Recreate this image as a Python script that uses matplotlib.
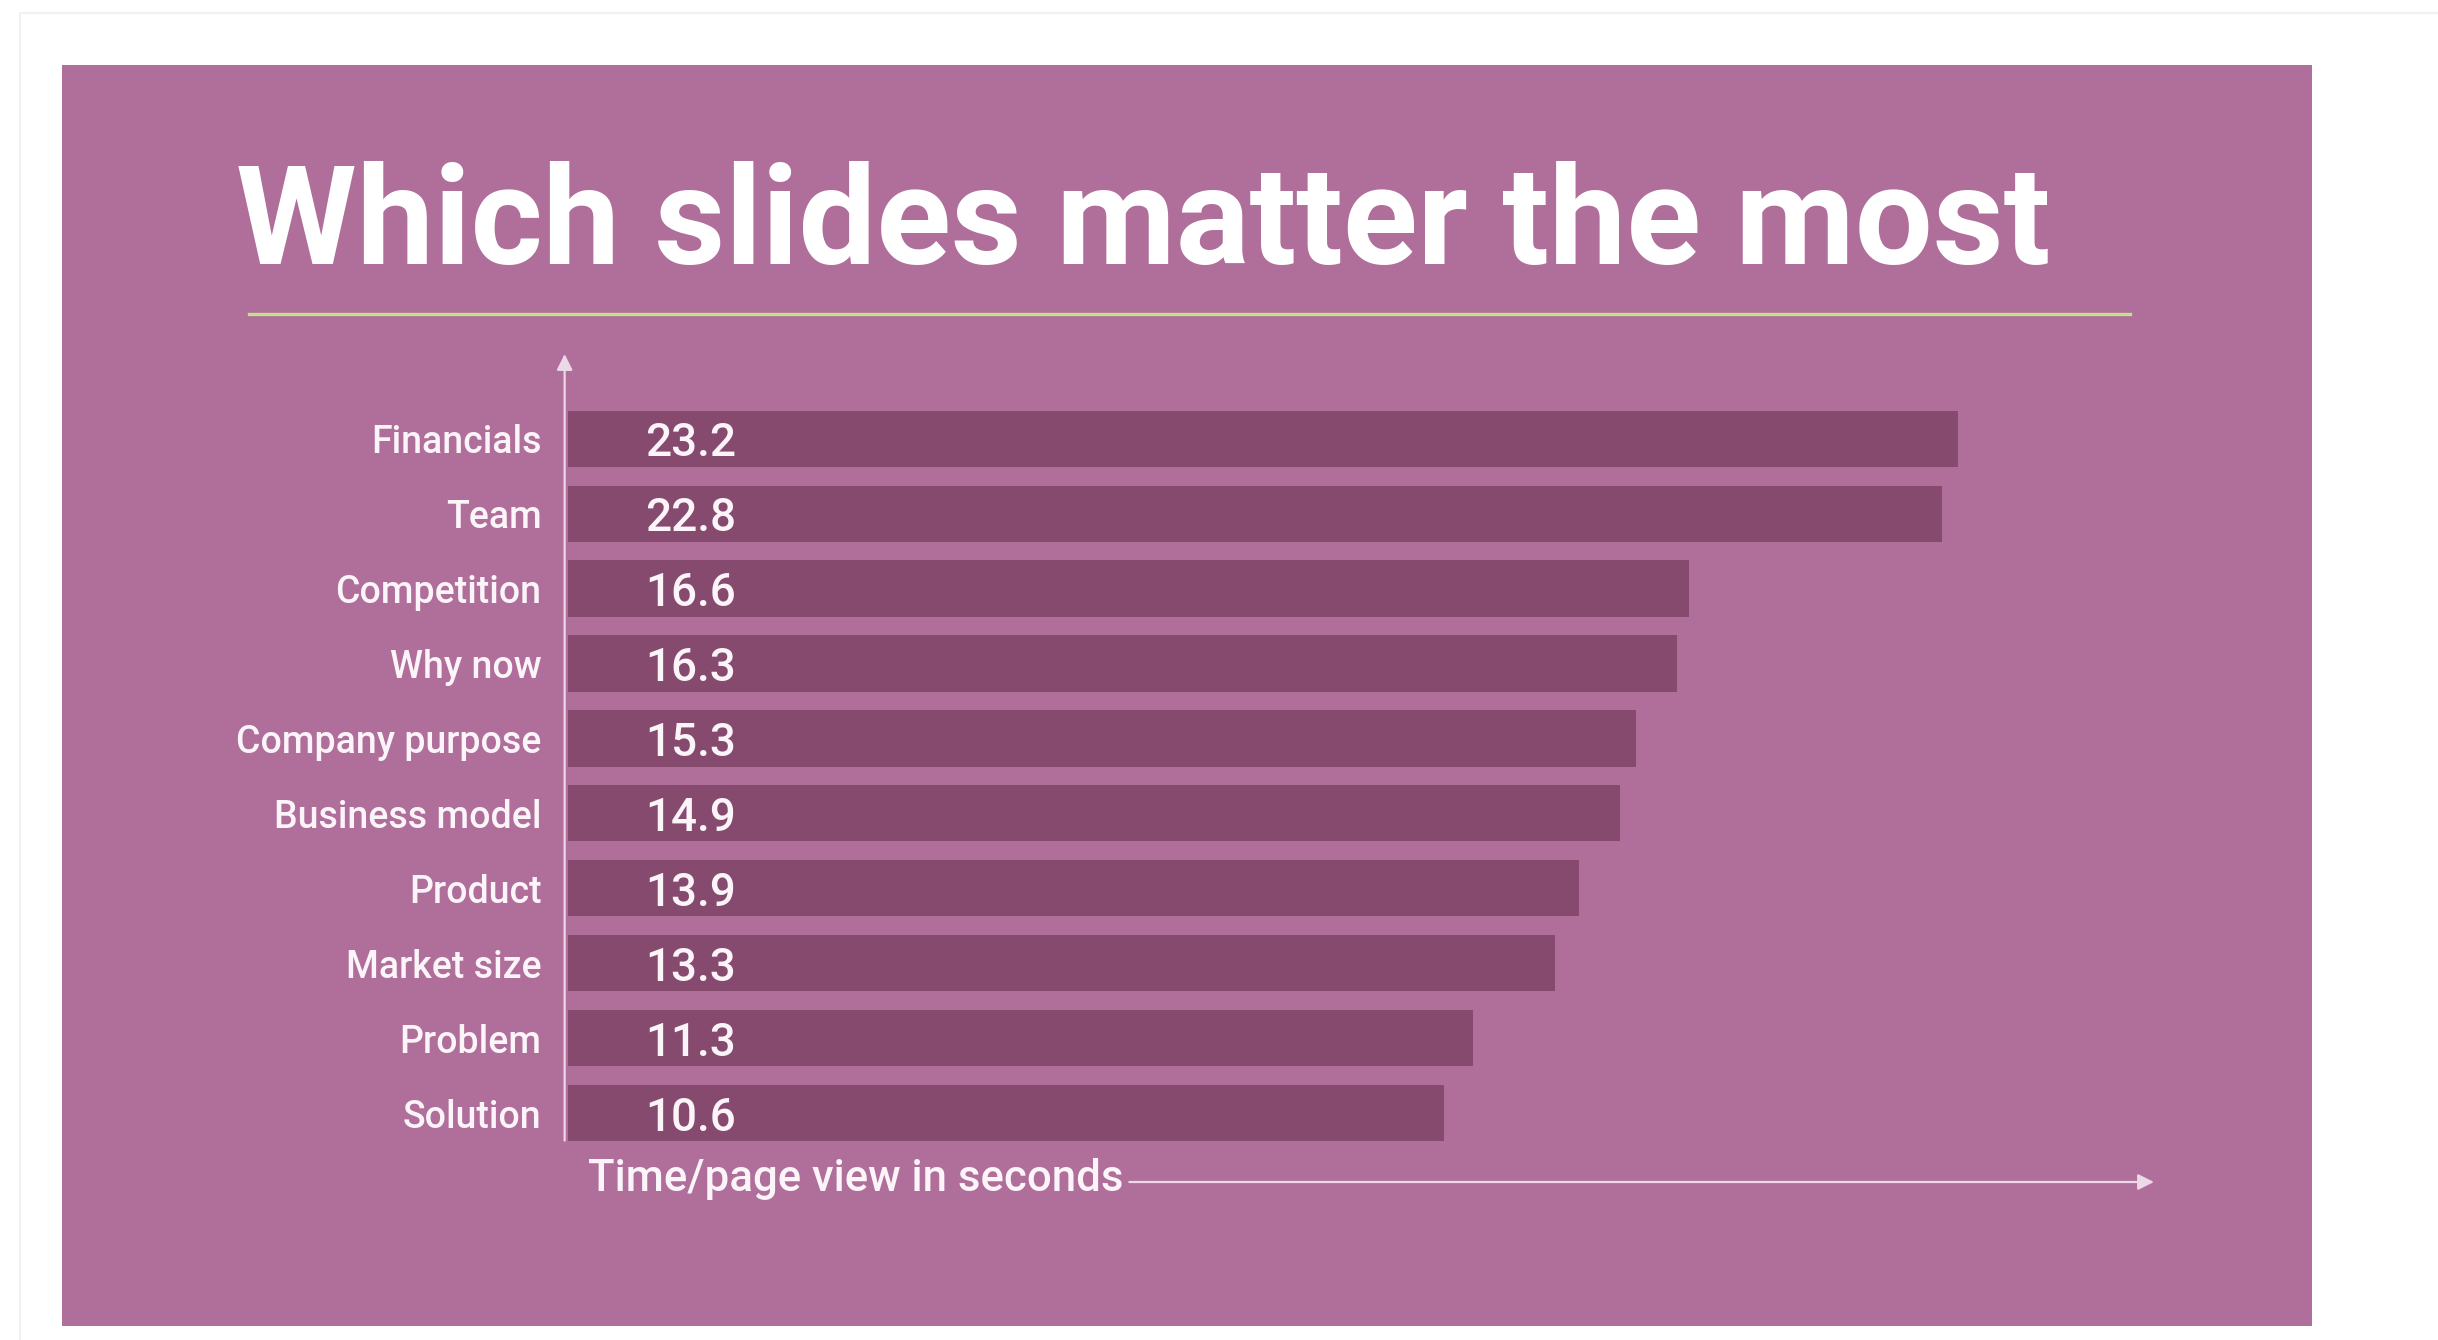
import matplotlib
matplotlib.use("Agg")
import matplotlib.pyplot as plt
from matplotlib.patches import Rectangle
from matplotlib.lines import Line2D
import matplotlib.transforms as mtransforms

# data
slides = ["Financials", "Team", "Competition", "Why now", "Company purpose",
          "Business model", "Product", "Market size", "Problem", "Solution"]
seconds = [23.2, 22.8, 16.6, 16.3, 15.3, 14.9, 13.9, 13.3, 11.3, 10.6]
title = "Which slides matter the most"
xlabel = "Time/page view in seconds"

panel_color = "#b06e9a"
bar_color = "#864a6e"
text_color = "#fbf4f8"
axis_color = "#ecd8e6"
rule_color = "#c6df8c"

plt.rcParams["font.family"] = ["Roboto", "DejaVu Sans"]

fig = plt.figure(figsize=(24.38, 13.40), dpi=100)
fig.patch.set_facecolor("white")

# faint outer frame and purple panel
fig.add_artist(Rectangle((0.008, -0.01), 1.1, 1.0, transform=fig.transFigure,
                         facecolor="none", edgecolor="#f1f1f5", lw=1.5, zorder=-2))
fig.add_artist(Rectangle((0.0254, 0.0104), 0.9229, 0.9411, transform=fig.transFigure,
                         facecolor=panel_color, edgecolor="none", zorder=-1))

fig.text(0.0969, 0.803, title, fontsize=99.4, fontweight="bold", color="white",
         va="baseline", ha="left")
fig.add_artist(Line2D([0.1021, 0.8737], [0.7657, 0.7657], transform=fig.transFigure,
                      color=rule_color, lw=2.4))

ax = fig.add_axes([0.2329, 0.1179, 0.6506, 0.6179])
ax.set_facecolor("none")
xmin, xmax = -10.9, 28.0
ypos = list(range(len(slides)))
ax.barh(ypos, [v - xmin for v in seconds], left=xmin, height=0.75,
        color=bar_color, edgecolor="none")
ax.set_xlim(xmin, xmax)
ax.set_ylim(9.92, -1.13)

trans = mtransforms.blended_transform_factory(ax.transAxes, ax.transData)
for y, v in zip(ypos, seconds):
    ax.text(0.0486, y, f"{v}", transform=trans, fontsize=33, fontweight=500,
            color=text_color, va="center_baseline", ha="left")

ax.set_yticks(ypos)
ax.set_yticklabels(slides, fontweight=500)
ax.tick_params(axis="y", length=0, pad=19, labelsize=27, labelcolor=text_color)
ax.set_xticks([])
for s in ax.spines.values():
    s.set_visible(False)

# hand drawn axes arrows
ax.annotate("", xy=(-0.002, 1.0), xytext=(-0.002, 0.05), xycoords="axes fraction",
            arrowprops=dict(arrowstyle="-|>", color=axis_color, lw=1.6,
                            mutation_scale=24, shrinkA=0, shrinkB=0))
ax.annotate("", xy=(1.0, 0.0), xytext=(0.354, 0.0), xycoords="axes fraction",
            arrowprops=dict(arrowstyle="-|>", color=axis_color, lw=1.6,
                            mutation_scale=24, shrinkA=0, shrinkB=0))
ax.text(0.0126, 0.004, xlabel, transform=ax.transAxes, fontsize=31.5,
        fontweight=500, color=text_color, va="center", ha="left")

fig.savefig("out.png", dpi=100, facecolor="white")
